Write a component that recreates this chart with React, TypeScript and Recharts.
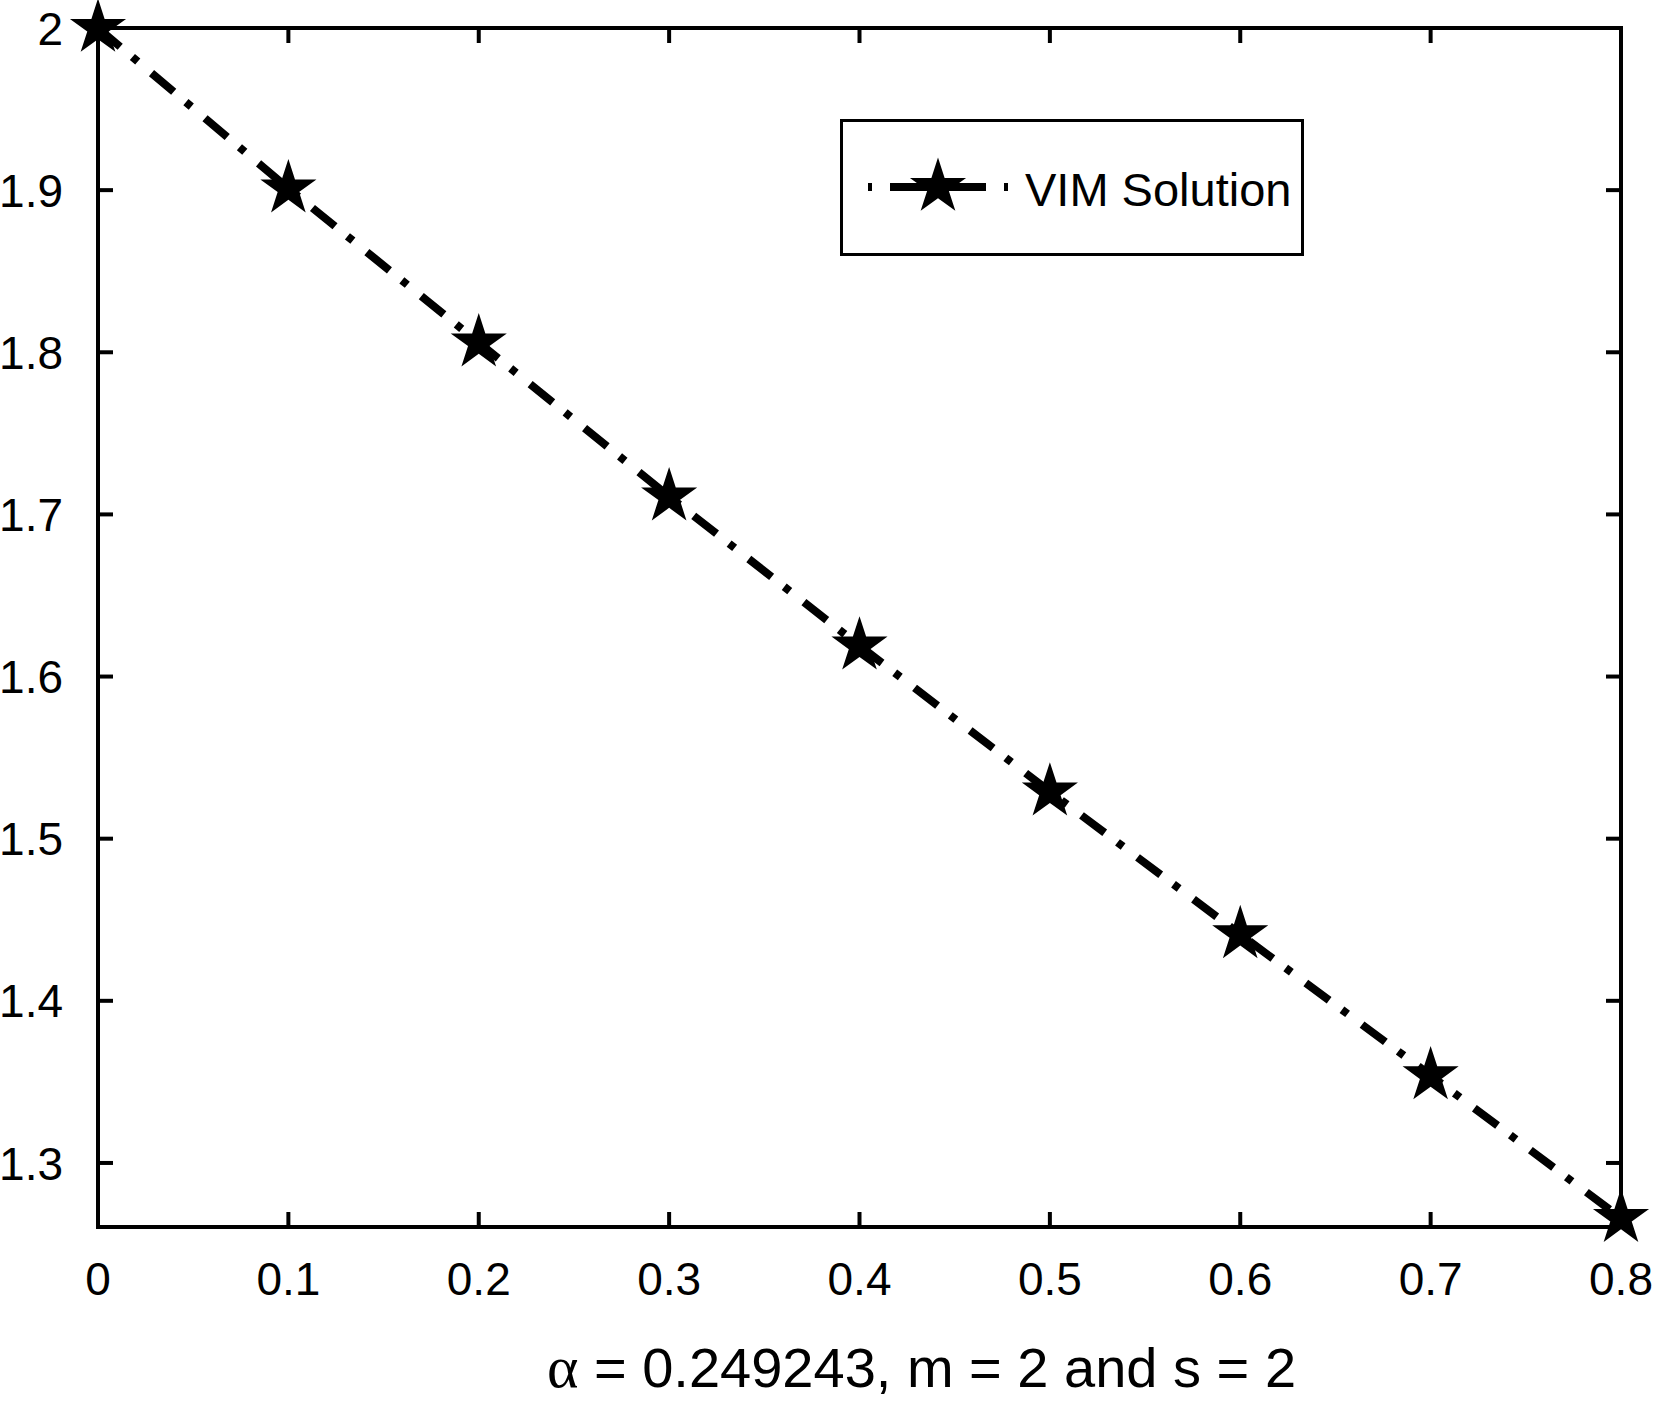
import React from "react";
import {
  LineChart,
  Line,
  XAxis,
  YAxis,
  Legend,
  ReferenceArea,
} from "recharts";

// values
const xValues = [0, 0.1, 0.2, 0.3, 0.4, 0.5, 0.6, 0.7, 0.8];
const vimSolution = [2, 1.901, 1.806, 1.711, 1.619, 1.529, 1.441, 1.354, 1.266];
const xTicks = [0, 0.1, 0.2, 0.3, 0.4, 0.5, 0.6, 0.7, 0.8];
const yTicks = [1.3, 1.4, 1.5, 1.6, 1.7, 1.8, 1.9, 2];
const yDomain = [1.2605, 2];

const data = xValues.map((x, i) => ({ x, vim: vimSolution[i] }));

const W = 1654;
const H = 1406;
const PLOT_TOP = 28;
const PLOT_LEFT = 98;
const PLOT_RIGHT = 1621;
const TICK = 15;
const FONT = "'Liberation Sans', Arial, sans-serif";

// 5 pointed star, like matlab's pentagram marker
const starPath = (cx: number, cy: number, r: number) => {
  const inner = r * 0.382;
  let d = "";
  for (let i = 0; i < 10; i++) {
    const rad = i % 2 === 0 ? r : inner;
    const a = -Math.PI / 2 + (i * Math.PI) / 5;
    d += (i === 0 ? "M" : "L") + (cx + rad * Math.cos(a)).toFixed(2) + "," + (cy + rad * Math.sin(a)).toFixed(2);
  }
  return d + "Z";
};

const StarDot = (props: any) => {
  const { cx, cy, index } = props;
  if (cx == null || cy == null) return null;
  return <path key={"star-" + index} d={starPath(cx, cy, 29.5)} fill="#000" stroke="none" />;
};

const XTick = (props: any) => {
  const { x, y, payload } = props;
  return (
    <g>
      <line x1={x} x2={x} y1={y} y2={y - TICK} stroke="#000" strokeWidth={4} />
      <line x1={x} x2={x} y1={PLOT_TOP} y2={PLOT_TOP + TICK} stroke="#000" strokeWidth={4} />
      <text x={x} y={y + 68} textAnchor="middle" fontSize={46} fontFamily={FONT} fill="#000">
        {payload.value}
      </text>
    </g>
  );
};

const YTick = (props: any) => {
  const { y, payload } = props;
  return (
    <g>
      <line x1={PLOT_LEFT} x2={PLOT_LEFT + TICK} y1={y} y2={y} stroke="#000" strokeWidth={4} />
      <line x1={PLOT_RIGHT} x2={PLOT_RIGHT - TICK} y1={y} y2={y} stroke="#000" strokeWidth={4} />
      <text x={63} y={y} dy="0.36em" textAnchor="end" fontSize={46} fontFamily={FONT} fill="#000">
        {payload.value}
      </text>
    </g>
  );
};

const XTitle = (props: any) => {
  const vb = props.viewBox || { x: PLOT_LEFT, y: 1227, width: PLOT_RIGHT - PLOT_LEFT };
  return (
    <text
      x={vb.x + vb.width / 2 + 62}
      y={vb.y + 160}
      textAnchor="middle"
      fontSize={56}
      fontFamily={FONT}
      fill="#000"
    >
      <tspan fontFamily="'Liberation Serif', 'Times New Roman', serif" fontSize={60}>α</tspan>
      {" = 0.249243, m = 2 and s = 2"}
    </text>
  );
};

const LegendBox = () => (
  <div
    style={{
      width: "100%",
      height: "100%",
      boxSizing: "border-box",
      border: "3px solid #000",
      background: "#fff",
    }}
  >
    <svg width={458} height={131} style={{ display: "block" }}>
      <line
        x1={25}
        x2={165}
        y1={65}
        y2={65}
        stroke="#000"
        strokeWidth={8}
        strokeDasharray="4 18 96 18 4"
      />
      <path d={starPath(95, 65, 29.5)} fill="#000" />
      <text x={182} y={84} fontSize={47} fontFamily={FONT} fill="#000">
        VIM Solution
      </text>
    </svg>
  </div>
);

export default function App() {
  return (
    <div style={{ position: "absolute", left: 0, top: 0, width: W, height: H, background: "#fff" }}>
      <LineChart
        width={W}
        height={H}
        data={data}
        margin={{ top: PLOT_TOP, right: W - PLOT_RIGHT, left: 0, bottom: 0 }}
        style={{ fontFamily: FONT }}
      >
        <XAxis
          dataKey="x"
          type="number"
          domain={[0, 0.8]}
          ticks={xTicks}
          interval={0}
          height={179}
          axisLine={false}
          tickLine={false}
          tickSize={0}
          tickMargin={0}
          tick={<XTick />}
          label={(p: any) => <XTitle {...p} />}
        />
        <YAxis
          type="number"
          domain={yDomain}
          ticks={yTicks}
          interval={0}
          width={PLOT_LEFT}
          axisLine={false}
          tickLine={false}
          tickSize={0}
          tickMargin={0}
          tick={<YTick />}
        />
        <ReferenceArea
          x1={0}
          x2={0.8}
          y1={yDomain[0]}
          y2={yDomain[1]}
          fill="none"
          fillOpacity={0}
          stroke="#000"
          strokeWidth={4}
        />
        <Legend
          layout="horizontal"
          verticalAlign="middle"
          align="center"
          content={() => <LegendBox />}
          wrapperStyle={{ left: 840, top: 119, width: 464, height: 137 }}
        />
        <Line
          type="linear"
          dataKey="vim"
          name="VIM Solution"
          stroke="#000"
          strokeWidth={8}
          strokeDasharray="29 16 7 18"
          dot={StarDot}
          activeDot={false}
          isAnimationActive={false}
        />
      </LineChart>
    </div>
  );
}
